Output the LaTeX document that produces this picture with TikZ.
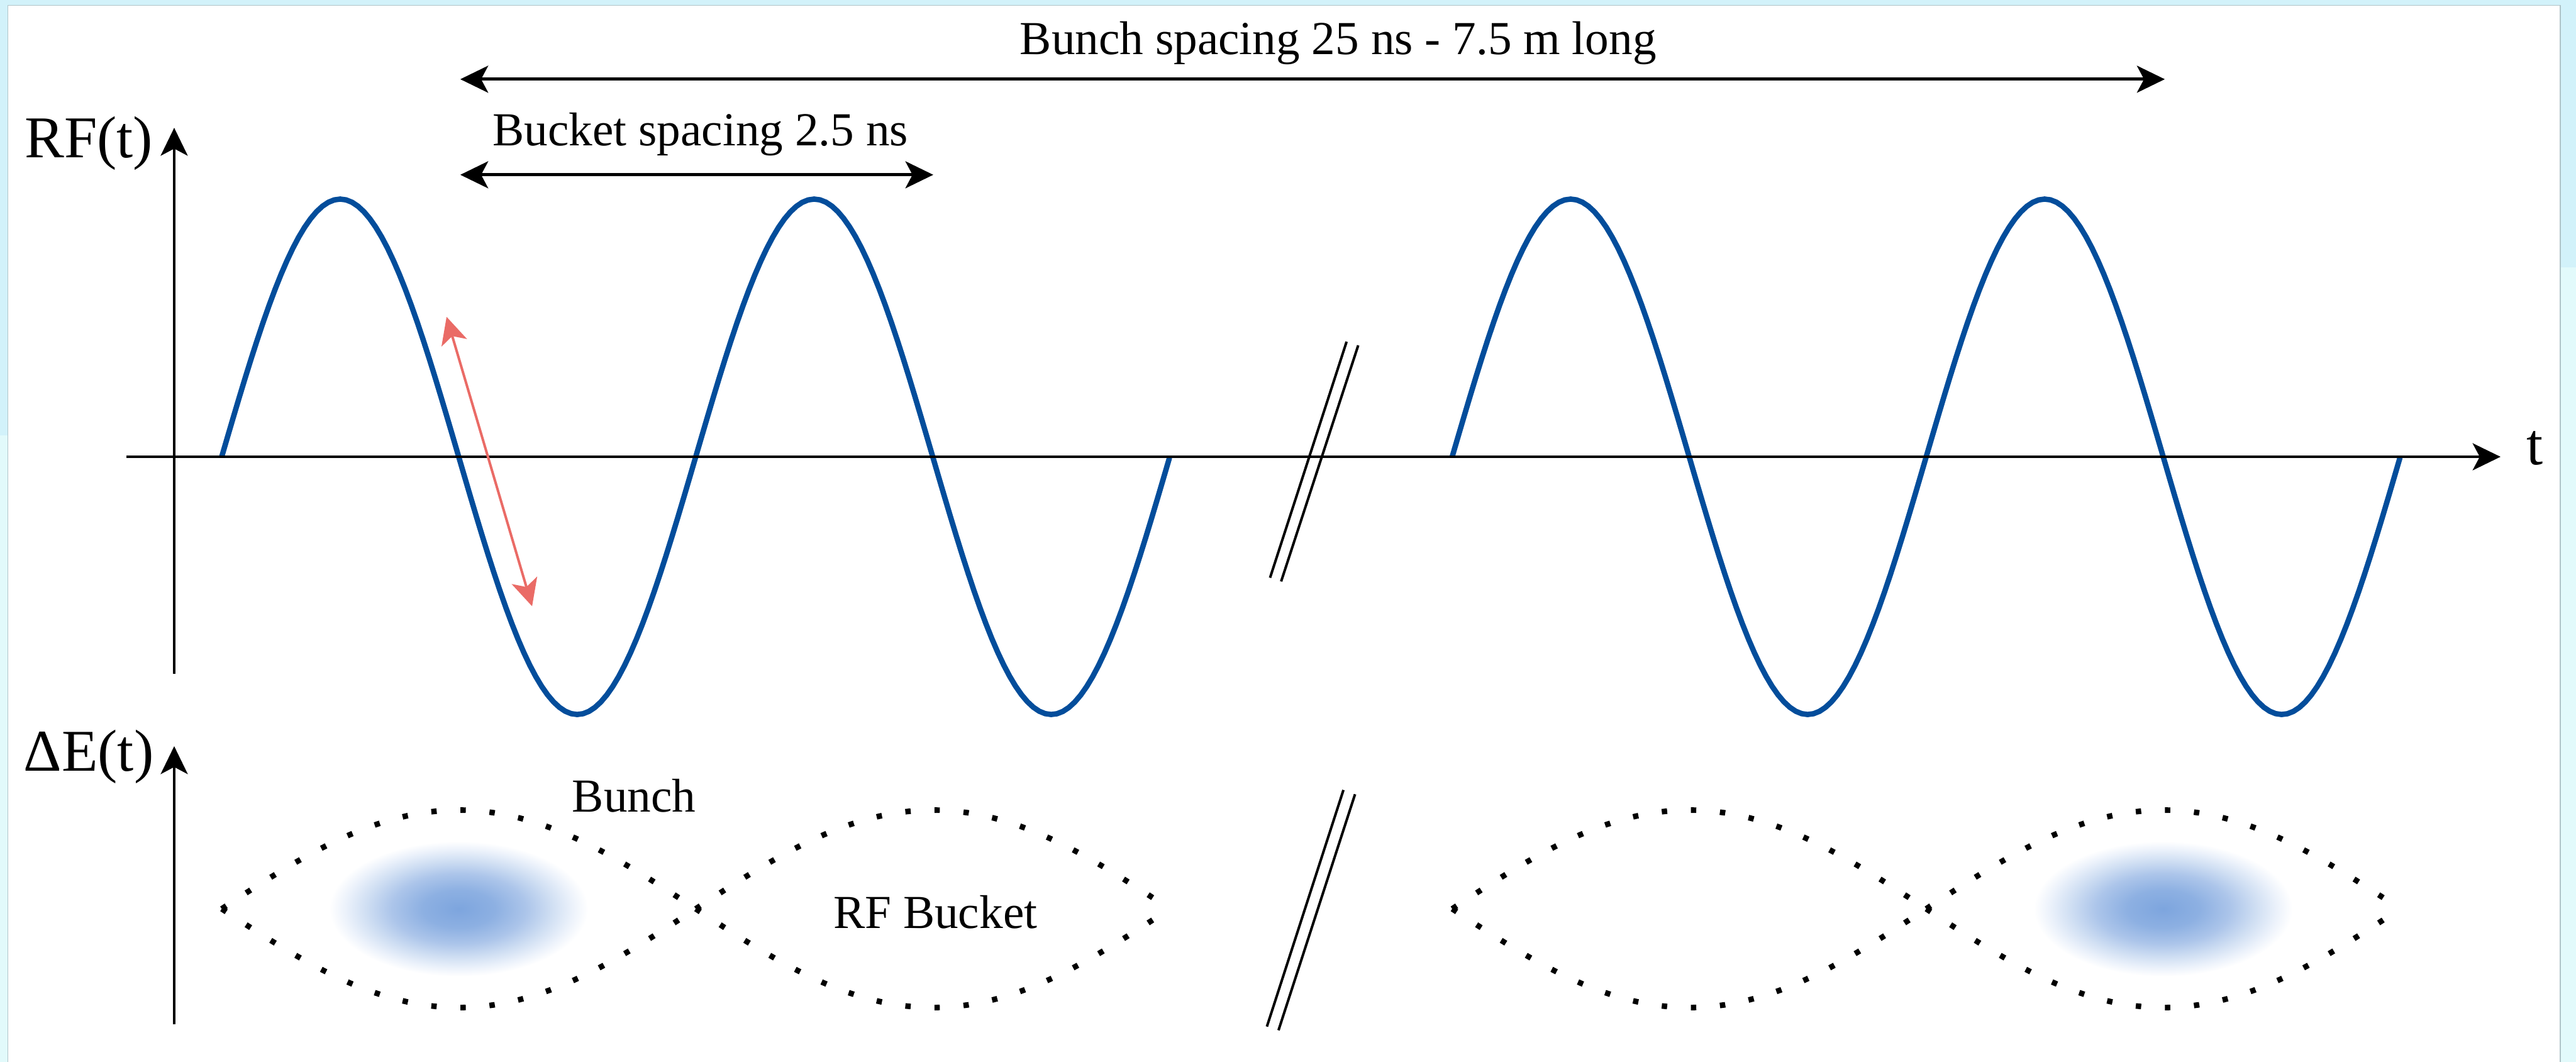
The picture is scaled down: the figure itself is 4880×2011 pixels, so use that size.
\documentclass[tikz,border=0pt]{standalone}
\usepackage{fontspec}
\setmainfont{Liberation Serif}
\usetikzlibrary{arrows.meta}
\definecolor{wavec}{RGB}{3,77,155}
\definecolor{redc}{RGB}{234,107,102}
\definecolor{bgA}{RGB}{210,242,250}
\definecolor{bgB}{RGB}{226,250,251}
\definecolor{shadowc}{RGB}{176,196,200}
\definecolor{bcA}{RGB}{125,165,222}
\definecolor{bcB}{RGB}{141,176,226}
\definecolor{bcC}{RGB}{172,197,234}
\definecolor{bcD}{RGB}{208,223,243}
\definecolor{bcE}{RGB}{236,242,251}
\pgfdeclareradialshading{bunchshade}{\pgfpoint{0bp}{0bp}}{color(0bp)=(bcA); color(7bp)=(bcB); color(13bp)=(bcC); color(18bp)=(bcD); color(22bp)=(bcE); color(25bp)=(white); color(50bp)=(white)}
\tikzset{
  tip/.tip={Stealth[length=15pt,width=14.5pt,inset=3.8pt]},
  axisline/.style={line width=1.65pt,-tip},
  dimline/.style={line width=1.65pt,tip-tip},
  wavepath/.style={draw=wavec,line width=2.9pt},
  redarrow/.style={draw=redc,line width=1.35pt,{Stealth[length=14.5pt,width=14.2pt,inset=3.7pt,color=redc]}-{Stealth[length=14.5pt,width=14.2pt,inset=3.7pt,color=redc]}},
  sepline/.style={line width=3pt,dash pattern=on 2.9pt off 12.8pt},
  brkline/.style={line width=1.35pt},
  lbl/.style={font=\fontsize{25.5}{30}\selectfont,inner sep=0pt,anchor=base},
  axlbl/.style={font=\fontsize{31.9}{38}\selectfont,inner sep=0pt,anchor=base west}
}
\begin{document}
\begin{tikzpicture}[x=0.01cm,y=-0.01cm]
\useasboundingbox (0,0) rectangle (4880,2011);
% screenshot frame
\fill[bgA] (0,0) rectangle (4880,2011);
\fill[bgB] (0,825) rectangle (15,2011);
\fill[bgB] (4850,506) rectangle (4880,2011);
\fill[white] (15,10) rectangle (4850,2011);
\draw[shadowc,line width=0.6pt] (15,2011) -- (15,10) -- (4850,10) -- (4850,2011);

% bunches
\shade[shading=bunchshade] (869,1721) ellipse (245 and 128);
\shade[shading=bunchshade] (4098,1721) ellipse (245 and 128);

% RF buckets (separatrices)
\foreach \xo in {420,1318,2751,3649}{
  \draw[sepline] plot[domain=0:1,samples=60] ({\xo+898*\x},{1721-187*sin(180*\x)});
  \draw[sepline] plot[domain=0:1,samples=60] ({\xo+898*\x},{1721+187*sin(180*\x)});
}

% RF waves
\draw[wavepath] plot[domain=0:4,samples=161] ({420+449*\x},{865-488*sin(180*\x)});
\draw[wavepath] plot[domain=0:4,samples=161] ({2751+449*\x},{865-488*sin(180*\x)});

% axes
\coordinate (rfbot) at (330,1276);
\coordinate (rftop) at (330,242);
\coordinate (debot) at (330,1940);
\coordinate (detop) at (330,1413);
\coordinate (tleft) at (240,865);
\coordinate (tright) at (4737,865);
\draw[axisline] (rfbot) -- (rftop);
\draw[axisline] (debot) -- (detop);
\draw[axisline] (tleft) -- (tright);

% dimension arrows
\coordinate (bsA) at (872,150);
\coordinate (bsB) at (4101,150);
\coordinate (kbA) at (872,331);
\coordinate (kbB) at (1768,331);
\draw[dimline] (bsA) -- (bsB);
\draw[dimline] (kbA) -- (kbB);

% red arrow
\coordinate (rdA) at (846,600);
\coordinate (rdB) at (1008,1148);
\draw[redarrow] (rdA) -- (rdB);

% break marks
\coordinate (b1a) at (2406,1094); \coordinate (b1b) at (2551,647);
\coordinate (b2a) at (2427,1101); \coordinate (b2b) at (2573,654);
\coordinate (b3a) at (2400,1944); \coordinate (b3b) at (2545,1496);
\coordinate (b4a) at (2422,1951); \coordinate (b4b) at (2567,1504);
\draw[brkline] (b1a) -- (b1b);
\draw[brkline] (b2a) -- (b2b);
\draw[brkline] (b3a) -- (b3b);
\draw[brkline] (b4a) -- (b4b);

% labels
\node[lbl] (bunchsp) at (2535,103) {Bunch spacing 25 ns - 7.5 m long};
\node[lbl] (bucketsp) at (1327,276) {Bucket spacing 2.5 ns};
\node[lbl] (bunchlbl) at (1201,1538) {Bunch};
\node[lbl] (bucketlbl) at (1772,1758) {RF Bucket};
\node[axlbl] (rflbl) at (46,299) {RF(t)};
\node[axlbl] (delbl) at (44,1460) {ΔE(t)};
\node[axlbl] (tlbl) at (4786,880) {t};
\end{tikzpicture}
\end{document}
